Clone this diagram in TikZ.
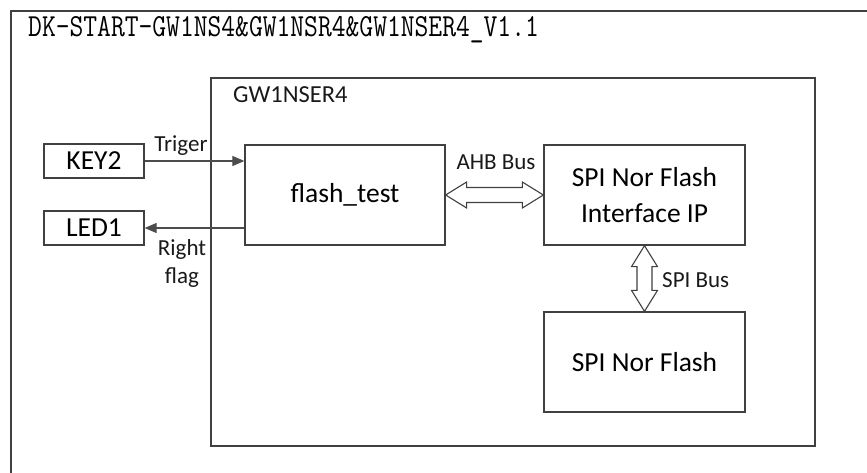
\documentclass[tikz,border=0pt]{standalone}
\usepackage{fontspec}
\setsansfont{Carlito}
\usetikzlibrary{arrows.meta,calc}
\tikzset{
  blk/.style={draw=black!75, line width=1.3pt, inner sep=0pt, align=center,
    font=\fontsize{27.5}{36}\selectfont\sffamily},
  lbl/.style={inner sep=0pt, align=center, text=black!90,
    font=\fontsize{23}{28}\selectfont\sffamily},
  sig/.style={draw=black!70, line width=1.1pt, -{Triangle[length=12pt,width=10pt]}},
  bus/.style={draw=black!75, line width=1.1pt, fill=white, line join=miter},
}

\begin{document}
\begin{tikzpicture}[x=1pt,y=-1pt]
\useasboundingbox (0,0) rectangle (867,473);
\clip (0,0) rectangle (867,473);
% board frame and title
\draw[draw=black!75,line width=1.3pt] (11,11) rectangle (890,500);
\node[anchor=west,inner sep=0pt,font=\fontsize{26.8}{30}\selectfont\ttfamily] (title) at (28,30) {\scalebox{1}[1.2]{DK-START-GW1NS4\&GW1NSR4\&GW1NSER4\_V1.1}};
% FPGA frame
\draw[draw=black!75,line width=1.3pt] (211,78) rectangle (815,446);
\node[lbl,anchor=west,font=\fontsize{24.5}{28}\selectfont\sffamily] (chip) at (233,95) {GW1NSER4};
% blocks
\node[blk,minimum width=100pt,minimum height=34pt] (key2) at (94,161) {KEY2};
\node[blk,minimum width=100pt,minimum height=34pt] (led1) at (94,228) {LED1};
\node[blk,minimum width=200pt,minimum height=100pt] (flash) at (345,195) {flash\_test};
\node[blk,minimum width=201pt,minimum height=100pt] (spiif) at (644.5,195) {SPI Nor Flash\\Interface IP};
\node[blk,minimum width=201pt,minimum height=100pt] (nor) at (644.5,362) {SPI Nor Flash};
% signals
\draw[sig] (key2.east) -- (key2.east -| flash.west);
\draw[sig] (flash.west |- led1.east) -- (led1.east);
\node[lbl] (trig) at (181,146) {Triger};
\node[lbl] (rflag) at (182,263) {Right\\flag};
% buses
\draw[bus] (flash.east) -- ++(21,-13) -- ++(0,5.5) -- ($(spiif.west)+(-21,-7.5)$) -- ++(0,-5.5) -- (spiif.west)
  -- ++(-21,13) -- ++(0,-5.5) -- ($(flash.east)+(21,7.5)$) -- ++(0,5.5) -- cycle;
\node[lbl] (ahb) at (496,162) {AHB Bus};
\draw[bus] (spiif.south) -- ++(-13,21) -- ++(5.5,0) -- ($(nor.north)+(-7.5,-21)$) -- ++(-5.5,0) -- (nor.north)
  -- ++(13,-21) -- ++(-5.5,0) -- ($(spiif.south)+(7.5,21)$) -- ++(5.5,0) -- cycle;
\node[lbl,anchor=west] (spibus) at (662,280) {SPI Bus};

\end{tikzpicture}
\end{document}
